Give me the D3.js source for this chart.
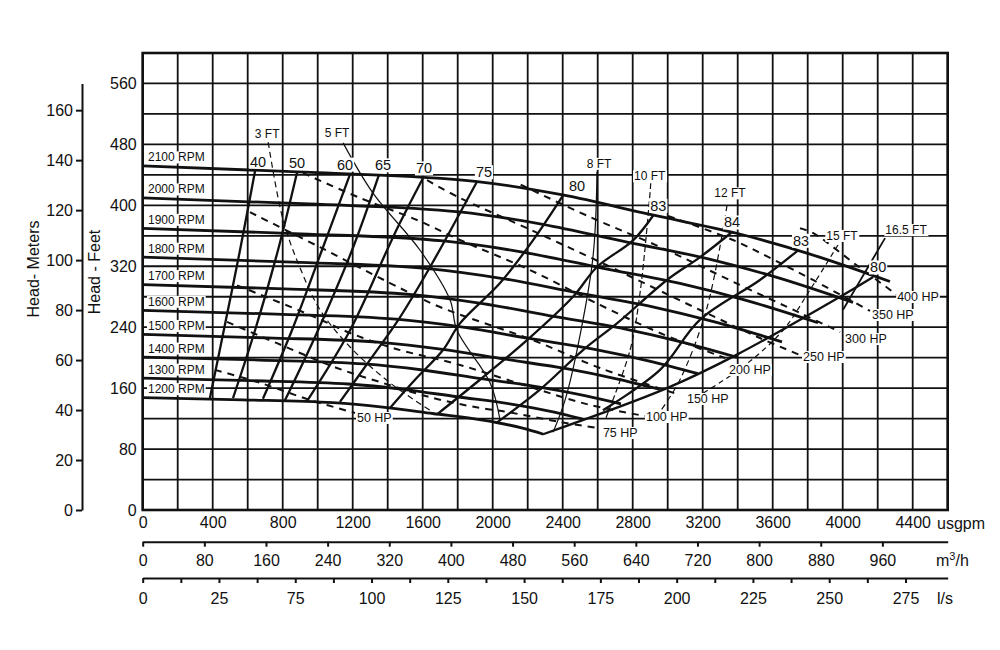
<!DOCTYPE html>
<html><head><meta charset="utf-8">
<script src="https://cdn.jsdelivr.net/npm/d3@7"></script>
<style>
body{margin:0;background:#fff;}
text{font-family:"Liberation Sans",Arial,Helvetica,sans-serif;fill:#111;}
</style>
</head><body>
<svg id="chart" width="1000" height="650"></svg>
<script>
// ---------------- DATA ----------------
const usgpmTicks = [0,400,800,1200,1600,2000,2400,2800,3200,3600,4000,4400];
const feetTicks = [0,80,160,240,320,400,480,560];
const meterTicks = [0,20,40,60,80,100,120,140,160];
const m3hTicks = [0,80,160,240,320,400,480,560,640,720,800,880,960];
const lsLabels = ["0","25","75","100","125","150","175","200","225","250","275"];

// head curves [usgpm, feet]
const rpmNames = ["2100 RPM","2000 RPM","1900 RPM","1800 RPM","1700 RPM","1600 RPM","1500 RPM","1400 RPM","1300 RPM","1200 RPM"];
const rpm2100 = [[0,451.7],[1000,443],[1900,431.5],[2400,413.6],[2900,388],[3400,363],[3800,337],[4270,300]];
const rpm2000 = [[0,409.7],[952,401.8],[1810,391.4],[2286,375.1],[2762,351.9],[3238,329.3],[3619,305.7],[4059,272.6]];
const rpm1900 = [[0,369.8],[905,362.6],[1719,353.2],[2171,338.6],[2624,317.6],[3076,297.1],[3438,275.9],[3859,245.8]];
const rpm1800 = [[0,331.9],[857,325.5],[1629,317.0],[2057,303.9],[2486,285.1],[2914,266.7],[3257,247.6],[3653,220.8]];
const rpm1700 = [[0,296.0],[810,290.3],[1538,282.8],[1943,271.0],[2348,254.2],[2752,237.9],[3076,220.8],[3396,200.5]];
const rpm1600 = [[0,262.2],[762,257.2],[1448,250.5],[1829,240.1],[2210,225.2],[2590,210.7],[2895,195.6],[3173,179.0]];
const rpm1500 = [[0,230.5],[714,226.0],[1357,220.2],[1714,211.0],[2071,198.0],[2429,185.2],[2714,171.9],[2955,158.4]];
const rpm1400 = [[0,200.8],[667,196.9],[1267,191.8],[1600,183.8],[1933,172.4],[2267,161.3],[2533,149.8],[2733,139.3]];
const rpm1300 = [[0,173.1],[619,169.8],[1176,165.4],[1486,158.5],[1795,148.7],[2105,139.1],[2352,128.5],[2510,119.5]];
const rpm1200 = [[0,147.5],[571,144.7],[1086,140.9],[1371,135.1],[1657,126.7],[1943,118.0],[2171,107.5],[2290,99.5]];

// efficiency lines (top on 2100 curve -> bottom)
const effNames = ["40","50","60","65","70","75","80","83","84","83","80"];
const eff40 = [[642,445],[556,341],[476,250],[384,147]];
const eff50 = [[882,443],[773,341],[642,236],[516,147]];
const eff60 = [[1185,441],[1024,341],[853,236],[687,146]];
const eff65 = [[1350,440],[1196,341],[1002,236],[813,144]];
const eff70 = [[1602,436],[1470,377],[1396,341],[1185,236],[939,143]];
const eff75 = [[1910,431],[1813,390],[1642,319],[1470,253],[1299,197],[1127,142]];
const eff80L = [[2402,413],[2230,354],[2042,298],[1813,245],[1716,210],[1556,171],[1413,134]];
const eff83L = [[2918,387],[2802,354],[2596,319],[2459,280],[2196,223],[1927,171],[1684,126]];
const eff84 = [[3368,365],[3185,332],[2996,302],[2710,245],[2516,210],[2270,158],[2025,115]];
const eff83R = [[3745,341],[3527,302],[3185,250],[2956,184],[2630,131]];
const eff80R = [[4174,306],[3985,280],[3396,204],[2996,160],[2288,99.5]];

// power lines (dashed)
const hpNames = ["50 HP","75 HP","100 HP","150 HP","200 HP","250 HP","300 HP","350 HP","400 HP"];
const hp50 = [[413,184],[670,167],[956,144.5],[1213,127.4]];
const hp75 = [[482,247],[767,219],[1110,186.5],[1356,168],[1659,147],[1927,134],[2082,128.7],[2384,115.6],[2601,107.7]];
const hp100 = [[539,295],[956,256],[1185,232.4],[1430,212.7],[1813,190.4],[2213,161.5],[2556,137.9],[2870,123.4]];
const hp150 = [[613,391],[1013,345],[1413,298],[1699,266.5],[2230,223],[2613,186.4],[3070,151]];
const hp200 = [[916,442.5],[1242,409.7],[1567,380.8],[1813,354.5],[2213,315.1],[2613,269.2],[2956,232.4],[3328,199.6]];
const hp250 = [[1625,433],[1813,409.7],[2156,374.2],[2613,325.6],[3185,262.6],[3527,225.8],[3756,203.5]];
const hp300 = [[2160,427],[2556,384.7],[2956,345.3],[3413,295.4],[3756,258.7],[3985,233.7]];
const hp350 = [[3002,386],[3373,354.5],[3585,330.9],[3830,302],[4156,261.3]];
const hp400 = [[3756,370],[3830,363.7],[4082,321],[4311,282.3]];

// NPSH required lines
const npshNames = ["3 FT","5 FT","8 FT","10 FT","12 FT","15 FT","16.5 FT"];
const npsh3 = [[717,483],[802,381],[899,318],[1013,263],[1185,214],[1413,167],[1642,131]];
const npsh5 = [[1145,482],[1316,416],[1585,341],[1756,276],[1796,236],[1985,167],[2042,118]];
const npsh8 = [[2596,444],[2573,332],[2482,210],[2413,144],[2345,102]];
const npsh10 = [[2903,429],[2899,416],[2842,285],[2785,210],[2642,118]];
const npsh12 = [[3339,400],[3225,266],[3070,171],[2956,129]];
const npsh15 = [[3973,348],[3813,289],[3659,236],[3430,188],[3185,151]];
const npsh165 = [[4242,357],[4002,263]];

// ---------------- CHART ----------------
const svg = d3.select("#chart");
const x = d3.scaleLinear().domain([0,4600]).range([142.7,947.7]);
const y = d3.scaleLinear().domain([0,600]).range([510,53]);
const FT_PER_M = 3.28084, GPM_PER_M3H = 4.4029, GPM_PER_LS = 15.850;
const yM = d3.scaleLinear().domain([0,560/FT_PER_M]).range([y(0),y(560)]);
const xM = d3.scaleLinear().domain([0,4600/GPM_PER_M3H]).range(x.range());
const xL = d3.scaleLinear().domain([0,4600/GPM_PER_LS]).range(x.range());

// grid
const grid = svg.append("g");
grid.selectAll(".v").data(d3.range(0,4601,200)).join("line")
  .attr("x1",d=>x(d)).attr("x2",d=>x(d)).attr("y1",y(0)).attr("y2",y(600))
  .attr("stroke","#111").attr("stroke-width",1.8);
grid.selectAll(".h").data(d3.range(0,601,40)).join("line")
  .attr("x1",x(0)).attr("x2",x(4600)).attr("y1",d=>y(d)).attr("y2",d=>y(d))
  .attr("stroke","#111").attr("stroke-width",1.8);
svg.append("rect").attr("x",x(0)).attr("y",y(600)).attr("width",x(4600)-x(0)).attr("height",y(0)-y(600))
  .attr("fill","none").attr("stroke","#111").attr("stroke-width",2.6);

// feet axis labels
const ax1 = svg.append("g").attr("transform",`translate(${x(0)},0)`)
  .call(d3.axisLeft(y).tickValues(feetTicks).tickSize(0).tickPadding(6));
ax1.select(".domain").remove();
ax1.selectAll("text").attr("font-size",16).attr("font-family",null);

// meter axis
const ax2 = svg.append("g").attr("transform","translate(82,0)")
  .call(d3.axisLeft(yM).tickValues(meterTicks).tickSize(6).tickSizeOuter(0).tickPadding(3));
ax2.select(".domain").attr("stroke","#111").attr("stroke-width",2);
ax2.selectAll(".tick line").attr("stroke","#111").attr("stroke-width",2);
ax2.selectAll("text").attr("font-size",16).attr("font-family",null);

svg.append("text").attr("transform","translate(39,269) rotate(-90)").attr("text-anchor","middle")
  .attr("font-size",16).text("Head- Meters");
svg.append("text").attr("transform","translate(100,272) rotate(-90)").attr("text-anchor","middle")
  .attr("font-size",16).text("Head - Feet");

// bottom usgpm labels
const ax3 = svg.append("g").attr("transform",`translate(0,${y(0)})`)
  .call(d3.axisBottom(x).tickValues(usgpmTicks).tickSize(0).tickPadding(7).tickFormat(d3.format("d")));
ax3.select(".domain").remove();
ax3.selectAll("text").attr("font-size",16).attr("font-family",null);
svg.append("text").attr("x",937).attr("y",529).attr("font-size",16).text("usgpm");

// m3/h axis
const ax4 = svg.append("g").attr("transform","translate(0,541.7)")
  .call(d3.axisBottom(xM).tickValues(m3hTicks).tickSize(5).tickSizeOuter(0).tickPadding(8).tickFormat(d3.format("d")));
ax4.select(".domain").attr("stroke","#111").attr("stroke-width",2);
ax4.selectAll(".tick line").attr("stroke","#111").attr("stroke-width",2);
ax4.selectAll("text").attr("font-size",16).attr("font-family",null);
const mt = svg.append("text").attr("x",936).attr("y",566).attr("font-size",16);
mt.append("tspan").text("m");
mt.append("tspan").attr("font-size",11).attr("dy",-6).text("3");
mt.append("tspan").attr("dy",6).text("/h");

// l/s axis (labels as printed on the original scale)
const lsStep = 275/20;
const lsTicks = d3.range(0,21).map(i=>i*lsStep);
const ax5 = svg.append("g").attr("transform","translate(0,578)")
  .call(d3.axisBottom(xL).tickValues(lsTicks).tickSize(5).tickSizeOuter(0).tickPadding(9.5)
    .tickFormat((d,i)=> i%2===0 ? lsLabels[i/2] : ""));
ax5.select(".domain").attr("stroke","#111").attr("stroke-width",2);
ax5.selectAll(".tick line").attr("stroke","#111").attr("stroke-width",2);
ax5.selectAll("text").attr("font-size",16).attr("font-family",null);
svg.append("text").attr("x",937).attr("y",604).attr("font-size",16).text("l/s");

// curves
const lineX = d3.line().x(d=>x(d[0])).y(d=>y(d[1])).curve(d3.curveMonotoneX);
const lineC = d3.line().x(d=>x(d[0])).y(d=>y(d[1])).curve(d3.curveCatmullRom.alpha(0.5));
const plot = svg.append("g").attr("fill","none").attr("stroke","#111").attr("stroke-linecap","butt");

const rpmCurves = [rpm2100,rpm2000,rpm1900,rpm1800,rpm1700,rpm1600,rpm1500,rpm1400,rpm1300,rpm1200];
plot.selectAll(".rpm").data(rpmCurves).join("path").attr("d",lineX).attr("stroke-width",2.8);

const effCurves = [eff40,eff50,eff60,eff65,eff70,eff75,eff80L,eff83L,eff84,eff83R,eff80R];
plot.selectAll(".eff").data(effCurves).join("path").attr("d",lineC).attr("stroke-width",2.3);

const hpCurves = [hp50,hp75,hp100,hp150,hp200,hp250,hp300,hp350,hp400];
plot.selectAll(".hp").data(hpCurves).join("path").attr("d",lineC).attr("stroke-width",2)
  .attr("stroke-dasharray","7,6");

const npshCurves = [npsh3,npsh5,npsh8,npsh10,npsh12,npsh15,npsh165];
const npshDash = ["6,4",null,null,"6,3","6,4","5,4",null];
const npshW = [1.2,1.2,1.2,1.2,1.2,1.2,1.8];
plot.selectAll(".np").data(npshCurves).join("path").attr("d",lineC)
  .attr("stroke-width",(d,i)=>npshW[i]).attr("stroke-dasharray",(d,i)=>npshDash[i]);

// labels with white boxes
const lab = svg.append("g");
function label(px,py,txt,size,anchor){
  const g = lab.append("g");
  const t = g.append("text").attr("x",px).attr("y",py).attr("font-size",size)
    .attr("text-anchor",anchor||"start").attr("dominant-baseline","central").text(txt);
  const b = t.node().getBBox();
  g.insert("rect","text").attr("x",b.x-1).attr("y",b.y+1).attr("width",b.width+2).attr("height",b.height-2)
    .attr("fill","#fff");
}
rpmCurves.forEach((c,i)=>label(148, y(c[0][1])-8.5, rpmNames[i], 12, "start"));

const effDx = [3,0,-5,4,1,7,14,5,0,3,5];
effCurves.forEach((c,i)=>label(x(c[0][0])+effDx[i], y(c[0][1])-9.5, effNames[i], 14.5, "middle"));

const hpDx = [2,5,1,7,4,3,5,2,0], hpDy = [5,5,1,4,12,2,7,4,2];
hpCurves.forEach((c,i)=>{const p=c[c.length-1]; label(x(p[0])+hpDx[i], y(p[1])+hpDy[i], hpNames[i], 12.5, "start");});

const npDx = [-1,-6,2,-1,3,4,21], npDy = [-8,-10,-8,-7,-12,-9,-8];
npshCurves.forEach((c,i)=>label(x(c[0][0])+npDx[i], y(c[0][1])+npDy[i], npshNames[i], 12, "middle"));
</script>
</body></html>
